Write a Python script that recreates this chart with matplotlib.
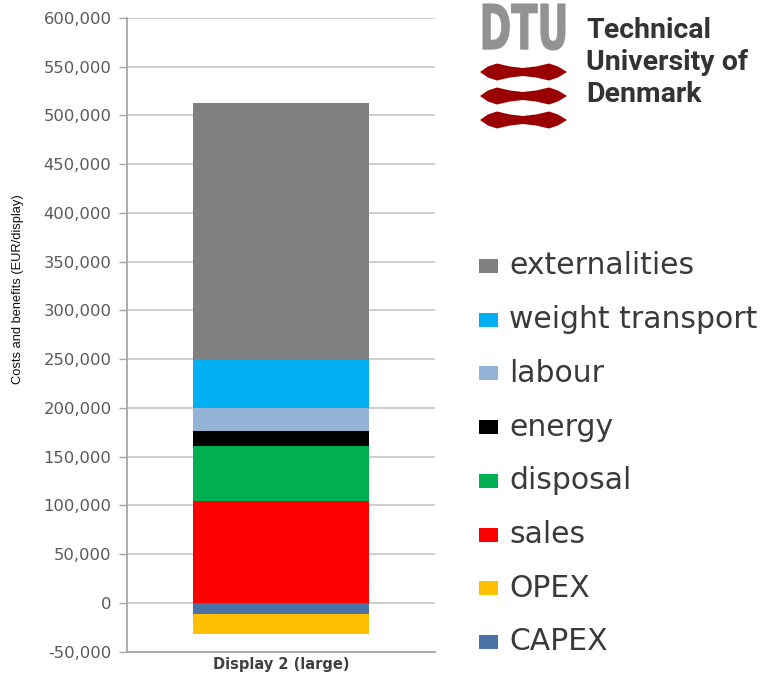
import matplotlib
matplotlib.use("Agg")
import matplotlib.pyplot as plt
from matplotlib.patches import Rectangle, Polygon, PathPatch
from matplotlib.textpath import TextPath
from matplotlib.font_manager import FontProperties
from matplotlib.transforms import Affine2D
from matplotlib.ticker import FuncFormatter, MultipleLocator
import numpy as np

# ---------------- data ----------------
categories = ["Display 2 (large)"]
series_names = ["CAPEX", "OPEX", "sales", "disposal", "energy", "labour",
                "weight transport", "externalities"]
series_values = [-11000, -21000, 105000, 56500, 15300, 23200, 50000, 262500]
series_colors = ["#4a72a6", "#ffc000", "#ff0000", "#00b050", "#000000",
                 "#95b3d7", "#00b0f0", "#808080"]
y_min, y_max, y_step = -50000, 600000, 50000
y_label = "Costs and benefits (EUR/display)"
logo_letters = "DTU"
logo_lines = ["Technical", "University of", "Denmark"]

W, H = 766, 676
fig = plt.figure(figsize=(W / 100, H / 100), dpi=100)

# main axes in pixel placement
ax_l, ax_r, ax_t, ax_b = 126.7, 435.0, 18.0, 651.7
ax = fig.add_axes([ax_l / W, (H - ax_b) / H, (ax_r - ax_l) / W, (ax_b - ax_t) / H])

x = np.arange(len(categories))
pos_bottom = np.zeros(len(categories))
neg_bottom = np.zeros(len(categories))
for name, val, col in zip(series_names, series_values, series_colors):
    v = np.array([val], dtype=float)
    if val >= 0:
        ax.bar(x, v, 0.573, bottom=pos_bottom, color=col, zorder=3, linewidth=0)
        pos_bottom = pos_bottom + v
    else:
        ax.bar(x, v, 0.573, bottom=neg_bottom, color=col, zorder=3, linewidth=0)
        neg_bottom = neg_bottom + v

ax.set_xlim(-0.5, 0.5)
ax.set_ylim(y_min, y_max)
ax.yaxis.set_major_locator(MultipleLocator(y_step))
ax.yaxis.set_major_formatter(FuncFormatter(lambda v, p: "0" if v == 0 else f"{v:,.0f}".replace("\u2212", "-")))
ax.grid(axis="y", color="#c0c0c0", linewidth=1.1, zorder=0)
ax.set_axisbelow(True)
for s in ["top", "right"]:
    ax.spines[s].set_visible(False)
for s in ["left", "bottom"]:
    ax.spines[s].set_color("#a6a6a6")
    ax.spines[s].set_linewidth(1.3)
ax.tick_params(axis="y", direction="out", length=6, width=1.0, color="#a6a6a6",
               labelsize=11.8, labelcolor="#595959", pad=5)
ax.set_xticks(x)
ax.set_xticklabels(categories)
ax.tick_params(axis="x", length=0, pad=4)
for lab in ax.get_xticklabels():
    lab.set_fontweight("bold")
    lab.set_fontsize(10.5)
    lab.set_color("#404040")

# overlay axes in pixel coordinates
ov = fig.add_axes([0, 0, 1, 1], facecolor="none")
ov.set_xlim(0, W)
ov.set_ylim(H, 0)
ov.axis("off")

# y label
ov.text(18, 289, y_label, rotation=90, ha="center", va="center", fontsize=9.3,
        family=["Liberation Sans Narrow", "Liberation Sans"], color="#111111")

# legend (reversed order)
row_y0, row_dy = 266, 53.7
for i, (name, col) in enumerate(zip(series_names[::-1], series_colors[::-1])):
    cy = row_y0 + i * row_dy
    ov.add_patch(Rectangle((479, cy - 7), 19, 14, facecolor=col, edgecolor="none"))
    ov.text(509, cy, name, ha="left", va="center", fontsize=21.5,
            family="DejaVu Sans", color="#3a3a3a")

# logo: DTU letters
tp = TextPath((0, 0), logo_letters, size=50,
              prop=FontProperties(family="DejaVu Sans", weight="bold"))
ext = tp.get_extents()
bx0, bx1, by0, by1 = 483, 565, 4, 50
tr = (Affine2D().translate(-ext.x0, -ext.y0)
      .scale((bx1 - bx0) / ext.width, -(by1 - by0) / ext.height)
      .translate(bx0, by1))
ov.add_patch(PathPatch(tr.transform_path(tp), facecolor="#929292", edgecolor="#929292",
                       linewidth=0.8))

# logo: red bow shapes
for cy in [72, 96, 120]:
    pts = [(480, cy), (488, cy - 5.5), (497, cy - 8.5), (510, cy - 5.5), (523, cy - 4),
           (536, cy - 5.5), (549, cy - 8.5), (558, cy - 5.5), (567, cy),
           (558, cy + 5.5), (549, cy + 8.5), (536, cy + 5.5), (523, cy + 4),
           (510, cy + 5.5), (497, cy + 8.5), (488, cy + 5.5)]
    ov.add_patch(Polygon(pts, closed=True, facecolor="#9a0000", edgecolor="none"))

# logo text
for txt, by in zip(logo_lines, [38, 70, 102]):
    ov.text(586, by, txt, ha="left", va="baseline", fontsize=20.5,
            family=["Roboto", "DejaVu Sans"], weight="bold", color="#333333")

fig.savefig("out.png", dpi=100)
